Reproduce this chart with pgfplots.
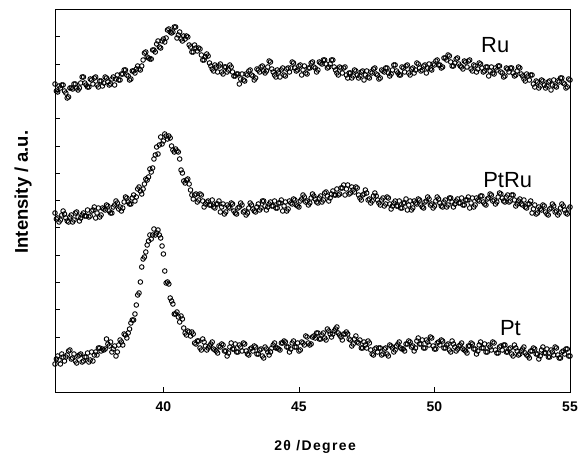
\documentclass[border=0pt]{standalone}
\usepackage{fontspec}
\setmainfont{Liberation Sans}
\usepackage{pgfplots}
\usepackage{pgfplotstable}
\pgfplotsset{compat=1.18}

% intensities in a.u. (offset curves)
\pgfplotstableread{
x ru ptru pt
36.0 308 179 28
36.1 300 174 36
36.2 304 172 28
36.3 307 181 35
36.4 299 174 35
36.5 295 170 41
36.6 304 177 33
36.7 308 172 38
36.8 304 180 29
36.9 304 171 37
37.0 315 177 30
37.1 309 176 35
37.2 305 182 39
37.3 313 176 32
37.4 308 182 31
37.5 315 174 40
37.6 305 184 44
37.7 311 177 41
37.8 309 183 42
37.9 314 187 53
38.0 307 181 46
38.1 313 179 40
38.2 307 187 46
38.3 317 189 40
38.4 312 185 52
38.5 318 184 47
38.6 322 195 57
38.7 316 190 59
38.8 313 188 69
38.9 321 197 72
39.0 323 195 87
39.1 323 205 99
39.2 326 198 125
39.3 339 208 135
39.4 335 212 147
39.5 333 223 157
39.6 342 224 157
39.7 340 237 157
39.8 351 238 162
39.9 344 255 154
40.0 353 251 138
40.1 354 256 109
40.2 363 256 108
40.3 359 246 91
40.4 365 240 78
40.5 354 241 80
40.6 360 233 70
40.7 351 219 73
40.8 353 209 59
40.9 355 213 61
41.0 345 202 56
41.1 340 193 58
41.2 344 198 48
41.3 344 192 51
41.4 337 197 42
41.5 332 185 50
41.6 338 190 42
41.7 329 187 46
41.8 323 192 50
41.9 327 184 42
42.0 320 188 39
42.1 328 180 45
42.2 318 188 47
42.3 325 180 41
42.4 322 185 39
42.5 325 189 49
42.6 316 181 43
42.7 318 178 40
42.8 308 185 47
42.9 318 187 41
43.0 311 181 48
43.1 317 179 38
43.2 322 189 43
43.3 316 183 41
43.4 314 180 45
43.5 322 188 38
43.6 325 184 43
43.7 321 191 34
43.8 321 182 43
43.9 331 188 37
44.0 323 186 44
44.1 317 191 49
44.2 322 184 44
44.3 315 189 42
44.4 324 181 49
44.5 316 190 50
44.6 324 183 45
44.7 324 189 43
44.8 329 193 51
44.9 321 187 45
45.0 326 185 41
45.1 317 193 50
45.2 326 195 47
45.3 318 191 55
45.4 324 189 47
45.5 330 198 55
45.6 324 193 54
45.7 322 189 59
45.8 329 196 53
45.9 332 192 59
46.0 328 200 52
46.1 325 191 61
46.2 332 198 55
46.3 325 197 61
46.4 319 203 65
46.5 325 198 57
46.6 319 204 52
46.7 325 197 58
46.8 314 207 58
46.9 319 199 52
47.0 316 202 48
47.1 321 205 56
47.2 314 197 49
47.3 320 192 44
47.4 312 198 50
47.5 321 199 44
47.6 314 193 49
47.7 319 191 38
47.8 324 199 43
47.9 317 192 40
48.0 314 187 44
48.1 321 194 38
48.2 324 188 44
48.3 319 194 36
48.4 318 183 46
48.5 327 189 40
48.6 321 186 46
48.7 317 191 50
48.8 325 184 43
48.9 320 189 41
49.0 327 182 48
49.1 317 191 50
49.2 324 184 46
49.3 322 189 44
49.4 328 193 54
49.5 321 187 48
49.6 326 184 44
49.7 319 191 52
49.8 328 193 47
49.9 322 188 54
50.0 327 186 43
50.1 332 195 49
50.2 327 189 47
50.3 325 185 51
50.4 334 192 44
50.5 337 187 48
50.6 330 194 40
50.7 326 185 48
50.8 333 191 41
50.9 328 189 46
51.0 325 194 49
51.1 331 187 42
51.2 325 192 39
51.3 332 184 46
51.4 321 194 48
51.5 326 187 43
51.6 323 192 41
51.7 328 196 50
51.8 320 190 44
51.9 325 187 40
52.0 316 194 47
52.1 325 197 42
52.2 318 192 49
52.3 322 190 39
52.4 326 199 45
52.5 319 194 42
52.6 316 190 47
52.7 323 197 40
52.8 324 191 44
52.9 319 197 36
53.0 317 186 44
53.1 325 191 37
53.2 318 188 41
53.3 313 192 45
53.4 318 184 37
53.5 312 188 34
53.6 317 179 41
53.7 305 187 43
53.8 310 179 38
53.9 306 183 36
54.0 311 187 45
54.1 304 180 39
54.2 310 177 35
54.3 302 184 42
54.4 312 186 37
54.5 305 181 44
54.6 310 179 34
54.7 314 188 40
54.8 308 182 38
54.9 305 178 43
55.0 312 185 36
}\xrd

% the in-between scan points
\pgfplotstableread{
x ru ptru pt
36.05 301 173 33
36.15 306 170 32
36.25 307 177 38
36.35 301 178 31
36.45 294 171 37
36.55 304 175 42
36.65 303 170 34
36.75 308 179 31
36.85 302 175 36
36.95 309 174 38
37.05 315 179 31
37.15 307 176 35
37.25 305 175 30
37.35 312 181 40
37.45 314 185 37
37.55 307 179 37
37.65 311 175 44
37.75 306 184 43
37.85 315 182 43
37.95 310 186 48
38.05 308 179 50
38.15 315 185 43
38.25 313 191 36
38.35 312 183 47
38.45 318 181 50
38.55 322 190 58
38.65 317 194 54
38.75 312 188 63
38.85 321 194 72
38.95 319 191 78
39.05 326 203 97
39.15 322 201 110
39.25 332 203 133
39.35 340 213 140
39.45 334 215 151
39.55 333 220 153
39.65 342 233 163
39.75 348 245 159
39.85 345 247 157
39.95 351 248 146
40.05 350 258 121
40.15 362 253 110
40.25 360 254 94
40.35 360 242 88
40.45 365 243 78
40.55 357 240 75
40.65 353 222 76
40.75 356 211 64
40.85 356 212 57
40.95 347 208 60
41.05 340 197 60
41.15 347 197 49
41.25 341 190 51
41.35 343 198 44
41.45 332 191 53
41.55 335 188 46
41.65 336 191 44
41.75 326 187 48
41.85 321 185 43
41.95 325 188 41
42.05 326 191 46
42.15 320 185 48
42.25 325 178 41
42.35 320 187 36
42.45 327 184 45
42.55 320 188 43
42.65 316 179 48
42.75 318 184 40
42.85 313 189 45
42.95 312 180 49
43.05 318 177 41
43.15 321 184 37
43.25 317 187 44
43.35 312 181 46
43.45 323 185 38
43.55 320 182 42
43.65 326 191 36
43.75 319 186 45
43.85 325 185 40
43.95 330 190 40
44.05 320 186 47
44.15 315 184 44
44.25 320 189 43
44.35 322 192 49
44.45 317 186 51
44.55 323 181 45
44.65 320 191 40
44.75 330 188 49
44.85 324 192 45
44.95 322 186 49
45.05 327 191 42
45.15 322 197 49
45.25 319 190 56
45.35 324 187 49
45.45 329 194 48
45.55 325 196 56
45.65 320 190 59
45.75 330 194 53
45.85 328 190 57
45.95 332 199 54
46.05 324 196 63
46.15 328 194 58
46.25 332 201 58
46.35 322 197 63
46.45 317 197 59
46.55 324 204 55
46.65 324 207 58
46.75 317 203 60
46.85 319 198 53
46.95 314 205 46
47.05 322 200 53
47.15 317 204 50
47.25 316 194 52
47.35 321 197 44
47.45 317 202 47
47.55 315 192 51
47.65 320 189 42
47.75 323 196 37
47.85 318 196 44
47.95 313 189 44
48.05 322 192 37
48.15 320 186 43
48.25 324 195 38
48.35 316 188 47
48.45 322 186 44
48.55 327 191 42
48.65 319 186 48
48.75 317 184 44
48.85 324 189 43
48.95 326 193 48
49.05 319 187 51
49.15 323 182 45
49.25 319 191 41
49.35 329 188 51
49.45 324 192 48
49.55 322 185 52
49.65 327 190 44
49.75 324 195 50
49.85 323 187 55
49.95 328 184 46
50.05 331 191 43
50.15 327 193 50
50.25 324 186 52
50.35 334 190 44
50.45 332 185 47
50.55 336 194 42
50.65 326 190 51
50.75 329 188 45
50.85 334 193 43
50.95 326 189 47
51.05 323 187 43
51.15 330 192 41
51.25 331 195 46
51.35 323 189 49
51.45 327 185 43
51.55 320 194 38
51.65 329 191 47
51.75 324 196 44
51.85 321 188 48
51.95 325 193 40
52.05 321 198 45
52.15 319 191 50
52.25 324 188 42
52.35 326 195 39
52.45 320 198 46
52.55 315 191 47
52.65 324 195 40
52.75 320 190 43
52.85 324 197 38
52.95 316 192 47
53.05 321 188 41
53.15 324 193 38
53.25 316 187 43
53.35 311 185 39
53.45 316 188 36
53.55 317 191 41
53.65 308 183 44
53.75 311 178 38
53.85 304 185 33
53.95 312 182 42
54.05 307 186 39
54.15 306 178 43
54.25 311 183 35
54.35 307 188 40
54.45 306 180 45
54.55 311 177 37
54.65 314 184 34
54.75 309 186 41
54.85 304 179 43
54.95 313 183 36
}\xrdmid

\begin{document}
\begin{tikzpicture}
\pgfplotsset{scan/.style={only marks, mark=o, mark size=2.3pt, black,
  mark options={line width=0.9pt}}}
\begin{axis}[
  width=515bp, height=383bp, scale only axis,
  xmin=36, xmax=55, ymin=0, ymax=383,
  xtick={40,45,50,55},
  ytick={55,82.3,109.6,136.9,164.2,191.5,218.8,246.1,273.4,300.7,328.0,355.3},
  yticklabels={},
  tick pos=left, tick align=inside,
  major tick length=5bp,
  axis line style={line width=0.8pt},
  every tick/.style={black, line width=0.7pt},
  /pgf/number format/assume math mode=true,
  xticklabel style={font=\fontsize{14}{14}\selectfont\bfseries, yshift=-6bp},
  xlabel={\bfseries\addfontfeatures{LetterSpace=10}2θ /Degree},
  xlabel style={at={(axis description cs:0.505,-0.1436)}, anchor=center,
    font=\fontsize{14}{14}\selectfont},
  ylabel={\bfseries Intensity / a.u.},
  ylabel style={at={(axis description cs:-0.062,0.522)}, anchor=center,
    font=\fontsize{18.5}{18.5}\selectfont},
]
\addplot[scan] table[x=x, y=ru] {\xrd};
\addplot[scan] table[x=x, y=ru] {\xrdmid};
\addplot[scan] table[x=x, y=ptru] {\xrd};
\addplot[scan] table[x=x, y=ptru] {\xrdmid};
\addplot[scan] table[x=x, y=pt] {\xrd};
\addplot[scan] table[x=x, y=pt] {\xrdmid};

\node[font=\fontsize{22}{22}\selectfont] at (axis cs:52.24,347) {Ru};
\node[font=\fontsize{22}{22}\selectfont] at (axis cs:52.7,212) {PtRu};
\node[font=\fontsize{22}{22}\selectfont] at (axis cs:52.8,64) {Pt};
\end{axis}
\pgfresetboundingbox
\path (-55bp,-61bp) rectangle (530bp,392bp);
\end{tikzpicture}
\end{document}
